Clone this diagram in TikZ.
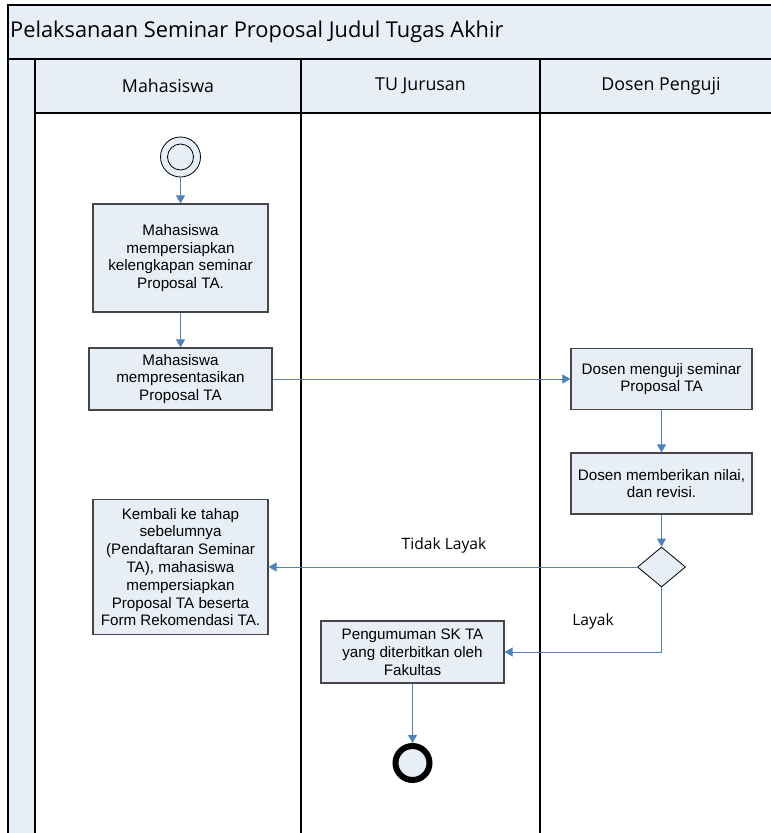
\documentclass[tikz,border=0pt]{standalone}
\usepackage{fontspec}
\setmainfont{Liberation Sans}
\newfontfamily\lanefont{Open Sans}
\usetikzlibrary{shapes.geometric,arrows.meta}
\definecolor{lanefill}{RGB}{232,238,247}
\definecolor{flowblue}{RGB}{79,129,189}
\definecolor{boxline}{RGB}{70,70,70}
\tikzset{
  frameline/.style={draw=black,line width=1.3pt},
  actbox/.style={draw=boxline,line width=1.2pt,fill=lanefill,rectangle,
    align=center,inner sep=0pt,font=\fontsize{15.2}{17.8}\selectfont},
  flow/.style={draw=flowblue,line width=1pt,-{Triangle[length=8pt,width=9pt]}},
  decision/.style={diamond,draw=black,line width=0.8pt,fill=lanefill,inner sep=0pt,
    minimum width=48pt,minimum height=40pt},
  lanehead/.style={font=\lanefont\fontsize{17.8}{20}\selectfont},
  guard/.style={font=\lanefont\fontsize{15.6}{18}\selectfont}
}
\begin{document}
\begin{tikzpicture}[x=1pt,y=-1pt]
\useasboundingbox (0,0) rectangle (771,833);
\clip (0,0) rectangle (771,833);

% swimlane frame
\fill[lanefill] (8,5) rectangle (790,113);
\fill[lanefill] (8,113) rectangle (35,840);
\draw[frameline] (790,5) -- (8,5) -- (8,840);
\draw[frameline] (8,59) -- (790,59);
\draw[frameline] (35,113) -- (790,113);
\draw[frameline] (35,59) -- (35,840);
\draw[frameline] (301,59) -- (301,840);
\draw[frameline] (540,59) -- (540,840);
\draw[frameline] (786,59) -- (786,840);

\node[anchor=west,inner sep=0pt,font=\lanefont\fontsize{21.8}{24}\selectfont] (title) at (10,32)
  {Pelaksanaan Seminar Proposal Judul Tugas Akhir};
\node[lanehead] (lane1) at (168,86) {Mahasiswa};
\node[lanehead] (lane2) at (420.5,86) {TU Jurusan};
\node[lanehead] (lane3) at (661,86) {Dosen Penguji};

% initial and final states
\node[circle,draw=black,line width=0.8pt,fill=lanefill,minimum size=40pt,inner sep=0pt] (start) at (180.5,157) {};
\node[circle,draw=black,line width=0.8pt,minimum size=26pt,inner sep=0pt] (startin) at (start) {};
\node[circle,draw=black,line width=6pt,fill=lanefill,minimum size=34pt,inner sep=0pt] (finish) at (412.5,763) {};

% activities
\node[actbox,minimum width=175pt,minimum height=108pt] (prep) at (180.5,258)
  {Mahasiswa\\mempersiapkan\\kelengkapan seminar\\Proposal TA.};
\node[actbox,minimum width=183pt,minimum height=62pt] (present) at (180.5,379)
  {Mahasiswa\\mempresentasikan\\Proposal TA};
\node[actbox,minimum width=181pt,minimum height=61pt] (test) at (661.5,379)
  {Dosen menguji seminar\\Proposal TA};
\node[actbox,minimum width=181pt,minimum height=61pt] (grade) at (661.5,483.5)
  {Dosen memberikan nilai,\\dan revisi.};
\node[decision] (check) at (661.5,567) {};
\node[actbox,minimum width=175pt,minimum height=135pt] (back) at (180.5,567)
  {Kembali ke tahap\\sebelumnya\\(Pendaftaran Seminar\\TA), mahasiswa\\mempersiapkan\\Proposal TA beserta\\Form Rekomendasi TA.};
\node[actbox,minimum width=183pt,minimum height=62pt] (announce) at (412.5,652)
  {Pengumuman SK TA\\yang diterbitkan oleh\\Fakultas};

% control flow
\draw[flow] (start) -- (prep);
\draw[flow] (prep) -- (present);
\draw[flow] (present) -- (test);
\draw[flow] (test) -- (grade);
\draw[flow] (grade) -- (check);
\draw[flow] (check.west) -- (back.east);
\node[guard] (nolabel) at (444,545) {Tidak Layak};
\draw[flow] (check.south) |- (announce.east);
\node[guard] (yeslabel) at (593,621) {Layak};
\draw[flow] (announce) -- (finish);
\end{tikzpicture}
\end{document}
